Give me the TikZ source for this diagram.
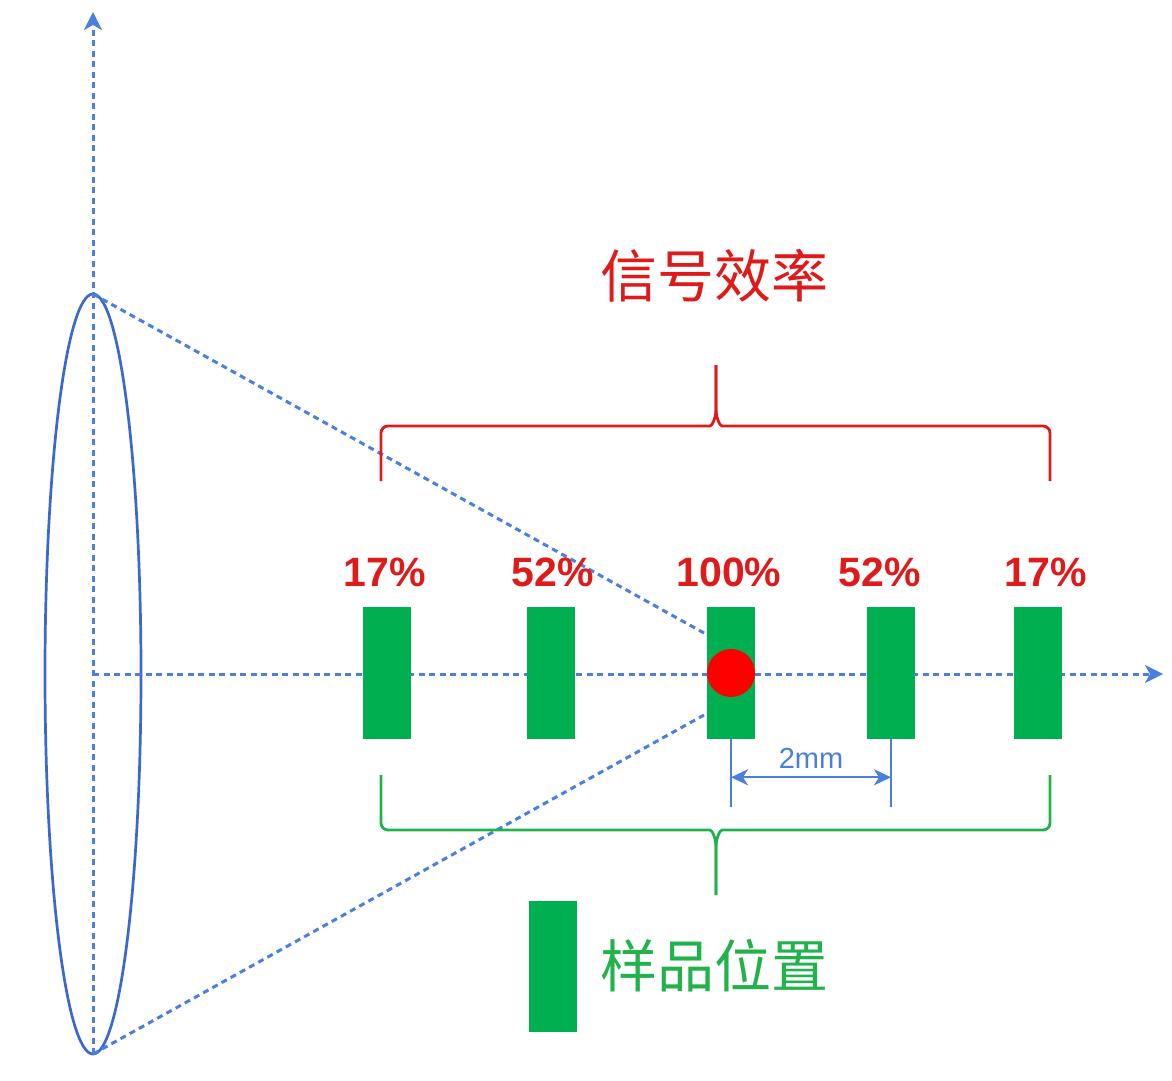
\documentclass[tikz,border=0pt]{standalone}
\usepackage{fontspec}
\setmainfont{Liberation Sans}
\newfontfamily\cjk{Noto Sans CJK SC}
\usetikzlibrary{arrows.meta,positioning,shapes.geometric,calc}
\definecolor{lensblue}{HTML}{3A68CC}
\definecolor{axisblue}{HTML}{4A7FDE}
\definecolor{sampgreen}{HTML}{00B050}
\definecolor{textgreen}{HTML}{22B24C}
\definecolor{sigred}{HTML}{DE1A1A}

\tikzset{%
        axis line/.style={
            axisblue,
            line width=3pt,
            dash pattern=on 6pt off 4.5pt
        },
        axis arrow/.style={
            -{Stealth[length=18pt,width=18pt,inset=5pt]}
        },
        every sample/.style={
            rectangle,
            fill=sampgreen,
            inner sep=0pt,
            minimum width=48pt,
            minimum height=132pt
        },
        percent/.style={
            text=sigred,
            inner sep=0pt,
            font=\fontsize{41}{41}\selectfont\bfseries
        },
        dim line/.style={
            axisblue,
            line width=2.4pt
        },
        dim arrow/.style={
            {Stealth[length=17pt,width=16pt,inset=5pt]}-{Stealth[length=17pt,width=16pt,inset=5pt]}
        },
        sig brace/.style={
            sigred,
            line width=2.8pt,
            rounded corners=7pt
        },
        pos brace/.style={
            textgreen,
            line width=2.8pt,
            rounded corners=7pt
        },
        big text/.style={
            inner sep=0pt,
            font=\cjk\fontsize{57}{57}\selectfont
        },
    }

\begin{document}
\begin{tikzpicture}[x=1pt, y=-1pt]

        \useasboundingbox (0,0) rectangle (1172,1080);

        \node [ellipse, draw=lensblue, line width=2.7pt, inner sep=0pt, outer sep=0pt,
            minimum width=96pt, minimum height=760pt] (lens) at (93,674) {};

        \coordinate (y-end) at (93,12);
        \coordinate (x-end) at (1163,674);
        \draw [axis line, axis arrow] (lens.south) -- (y-end);
        \draw [axis line, axis arrow] (lens.center) -- (x-end);

        \coordinate (ray-up) at (704,633);
        \coordinate (ray-down) at (704,715);
        \draw [axis line] (lens.north) -- (ray-up);
        \draw [axis line] (lens.south) -- (ray-down);

        \foreach \x [count=\i] in {387,551,731,891,1038}
        \node [every sample] (samp-\i) at (\x,673) {};

        \node [circle, fill=red, inner sep=0pt, minimum size=48pt] (focus) at (samp-3) {};

        \foreach \p/\s [count=\i] in {17/-2,52/2,100/-2,52/-11,17/8}
        \node [percent, above=20pt of samp-\i, xshift=\s pt] (pct-\i) {\p\%};

        \draw [dim line] (samp-3.south) -- ++(0,68) coordinate (tick-1);
        \draw [dim line] (samp-4.south) -- ++(0,68) coordinate (tick-2);
        \draw [dim line, dim arrow] ($(samp-3.south)!0.56!(tick-1)$) -- ($(samp-4.south)!0.56!(tick-2)$)
            node [midway, above=4pt, text=axisblue, font=\fontsize{29}{29}\selectfont] (gap) {2mm};

        \coordinate (sig-l) at (381,481);
        \coordinate (sig-r) at (1050,481);
        \coordinate (sig-tip) at (716,365);
        \draw [sig brace] (sig-l) -- (381,426) -- (703,426)
            .. controls (712,426) and (716,418) .. (716,402) -- (sig-tip);
        \draw [sig brace] (sig-r) -- (1050,426) -- (729,426)
            .. controls (720,426) and (716,418) .. (716,402) -- (sig-tip);
        \node [big text, text=sigred] (sig-title) at (714,276) {信号效率};

        \coordinate (pos-l) at (381,775);
        \coordinate (pos-r) at (1050,775);
        \coordinate (pos-tip) at (716,895);
        \draw [pos brace] (pos-l) -- (381,830) -- (703,830)
            .. controls (712,830) and (716,838) .. (716,854) -- (pos-tip);
        \draw [pos brace] (pos-r) -- (1050,830) -- (729,830)
            .. controls (720,830) and (716,838) .. (716,854) -- (pos-tip);

        \node [every sample, minimum height=131pt] (legend-box) at (553,966) {};
        \node [big text, text=textgreen, right=23pt of legend-box] (legend-text) {样品位置};
    \end{tikzpicture}
\end{document}
